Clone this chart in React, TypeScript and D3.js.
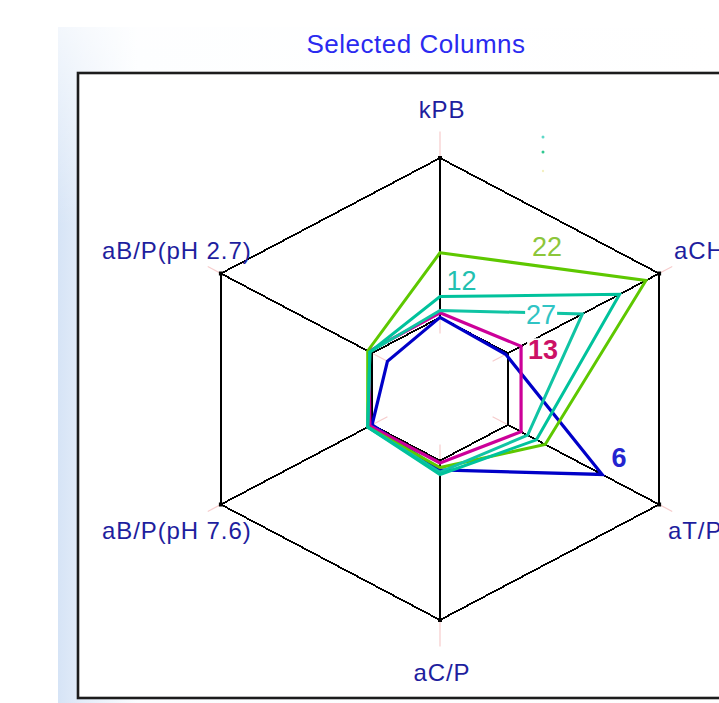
import React from "react";
import * as d3 from "d3";

// ---------- data ----------
const axisLabels = ["kPB", "aCH/P", "aT/P", "aC/P", "aB/P(pH 7.6)", "aB/P(pH 2.7)"];
const axisAngles = [90, 30, -30, -90, -150, 150]; // degrees
const ringValues = [31, 100]; // inner and outer hexagon

const seriesNames = ["22", "12", "27", "13", "6"];
const green22 = [59, 94, 48, 34, 33, 33];
const teal12 = [40, 82, 44, 37, 33, 32];
const teal27 = [34, 65, 40, 36, 33, 32];
const magenta13 = [33, 37, 37, 32, 32, 32.5];
const blue6 = [31, 30, 74, 35, 31, 24];

// ---------- layout / style ----------
const W = 719;
const H = 703;
const CX = 440;
const CY = 389;
const RX = 253;
const RY = 231;

const seriesStyle: Record<string, { color: string; text: string; width: number; bold: boolean }> = {
  "22": { color: "#5ec800", text: "#8cc63a", width: 3, bold: false },
  "12": { color: "#00c29c", text: "#22c0b0", width: 3, bold: false },
  "27": { color: "#10c4a4", text: "#30c4c4", width: 3, bold: false },
  "13": { color: "#cc0099", text: "#cc1166", width: 3.2, bold: true },
  "6": { color: "#0000c8", text: "#2424d0", width: 3.2, bold: true },
};

// label placement: axis index a, b of edge, fraction along edge, pixel offset
const labelPlace: Record<string, { a: number; b: number; f: number; dx: number; dy: number; bg: boolean }> = {
  "22": { a: 0, b: 1, f: 0.52, dx: 0, dy: -21, bg: false },
  "12": { a: 0, b: 1, f: 0.12, dx: 0, dy: -16, bg: false },
  "27": { a: 0, b: 1, f: 0.71, dx: 0, dy: 1, bg: true },
  "13": { a: 1, b: 1, f: 0, dx: 22, dy: 3, bg: true },
  "6": { a: 2, b: 2, f: 0, dx: 17, dy: -17, bg: false },
};

const rScale = d3.scaleLinear().domain([0, 100]).range([0, 1]);

function pt(axis: number, v: number): [number, number] {
  const a = (axisAngles[axis] * Math.PI) / 180;
  const f = rScale(v);
  return [CX + f * RX * Math.cos(a), CY - f * RY * Math.sin(a)];
}

const FONT = "'Liberation Sans', Arial, sans-serif";

export default function App() {
  const seriesData: Record<string, number[]> = {
    "22": green22,
    "12": teal12,
    "27": teal27,
    "13": magenta13,
    "6": blue6,
  };
  const drawOrder = ["6", "13", "22", "27", "12"];
  const line = d3.line<[number, number]>().curve(d3.curveLinearClosed);

  const rings = ringValues.map((rv) => line(axisAngles.map((_, i) => pt(i, rv))) as string);

  const labelPos = [
    { x: 442, y: 118, anchor: "middle" },
    { x: 674, y: 259, anchor: "start" },
    { x: 668, y: 539, anchor: "start" },
    { x: 442, y: 681, anchor: "middle" },
    { x: 102, y: 539, anchor: "start" },
    { x: 102, y: 259, anchor: "start" },
  ];

  return (
    <svg
      width={W}
      height={H}
      style={{ position: "absolute", left: 0, top: 0, display: "block" }}
      xmlns="http://www.w3.org/2000/svg"
    >
      <defs>
        <linearGradient id="panelGrad" x1="0" y1="0" x2="1" y2="0">
          <stop offset="0" stopColor="#d6e4f6" />
          <stop offset="0.04" stopColor="#e4edf9" />
          <stop offset="0.12" stopColor="#fbfdff" />
          <stop offset="1" stopColor="#ffffff" />
        </linearGradient>
        <linearGradient id="panelFade" x1="0" y1="0" x2="0" y2="1">
          <stop offset="0" stopColor="#ffffff" stopOpacity="0.7" />
          <stop offset="1" stopColor="#ffffff" stopOpacity="0" />
        </linearGradient>
      </defs>
      <rect x={0} y={0} width={W} height={H} fill="#ffffff" />
      <rect x={58} y={27} width={W - 58} height={H - 27} fill="url(#panelGrad)" />
      <rect x={58} y={27} width={W - 58} height={200} fill="url(#panelFade)" />

      <text x={416} y={53} textAnchor="middle" fontFamily={FONT} fontSize={26} fill="#2a2af0" letterSpacing={0.5}>
        Selected Columns
      </text>

      {/* frame */}
      <rect x={78} y={73} width={700} height={625} fill="#ffffff" stroke="#1c1c1c" strokeWidth={2.6} />

      {/* pink axis lines */}
      {axisAngles.map((ang, i) => {
        const ext = Math.abs(ang) === 90 ? 111.5 : 106;
        const [x1, y1] = pt(i, 24);
        const [x2, y2] = pt(i, ext);
        return <line key={"p" + i} x1={x1} y1={y1} x2={x2} y2={y2} stroke="#f6cccc" strokeWidth={1.2} />;
      })}

      {/* black spokes between rings */}
      {axisAngles.map((_, i) => {
        const [x1, y1] = pt(i, ringValues[0]);
        const [x2, y2] = pt(i, ringValues[1]);
        return (
          <line key={"s" + i} x1={x1} y1={y1} x2={x2} y2={y2} stroke="#000" strokeWidth={1.8} shapeRendering="crispEdges" />
        );
      })}
      {rings.map((d, i) => (
        <path key={"r" + i} d={d} fill="none" stroke="#000" strokeWidth={1.8} shapeRendering="crispEdges" />
      ))}
      {axisAngles.map((_, i) => {
        const [x, y] = pt(i, 100);
        return <rect key={"v" + i} x={x - 2} y={y - 2} width={4} height={4} fill="#000" />;
      })}

      {/* series */}
      {drawOrder.map((name) => {
        const vals = seriesData[name];
        const pts = vals.map((v, i) => pt(i, v));
        return (
          <path
            key={"ser" + name}
            d={line(pts) as string}
            fill="none"
            stroke={seriesStyle[name].color}
            strokeWidth={seriesStyle[name].width}
            strokeLinejoin="miter"
          />
        );
      })}

      {/* series labels */}
      {seriesNames.map((name) => {
        const lp = labelPlace[name];
        const vals = seriesData[name];
        const [ax, ay] = pt(lp.a, vals[lp.a]);
        const [bx, by] = pt(lp.b, vals[lp.b]);
        const x = ax + (bx - ax) * lp.f + lp.dx;
        const y = ay + (by - ay) * lp.f + lp.dy;
        const st = seriesStyle[name];
        const w = name.length * 15 + 2;
        return (
          <g key={"lab" + name}>
            {lp.bg && <rect x={x - w / 2} y={y - 11} width={w} height={22} fill="#ffffff" />}
            <text
              x={x}
              y={y}
              dy="0.36em"
              textAnchor="middle"
              fontFamily={FONT}
              fontSize={27}
              fontWeight={st.bold ? "bold" : "normal"}
              fill={st.text}
            >
              {name}
            </text>
          </g>
        );
      })}

      {/* small legend remnant marks */}
      <circle cx={543} cy={137} r={1.5} fill="#5fd8c8" />
      <circle cx={543} cy={152} r={1.5} fill="#30c890" />
      <circle cx={543} cy={171} r={1.2} fill="#f4f0c0" />

      {/* axis labels */}
      {axisLabels.map((lab, i) => (
        <text
          key={"al" + i}
          x={labelPos[i].x}
          y={labelPos[i].y}
          textAnchor={labelPos[i].anchor as any}
          fontFamily={FONT}
          fontSize={24}
          letterSpacing={0.9}
          fill="#1e1e9e"
        >
          {lab}
        </text>
      ))}
    </svg>
  );
}
